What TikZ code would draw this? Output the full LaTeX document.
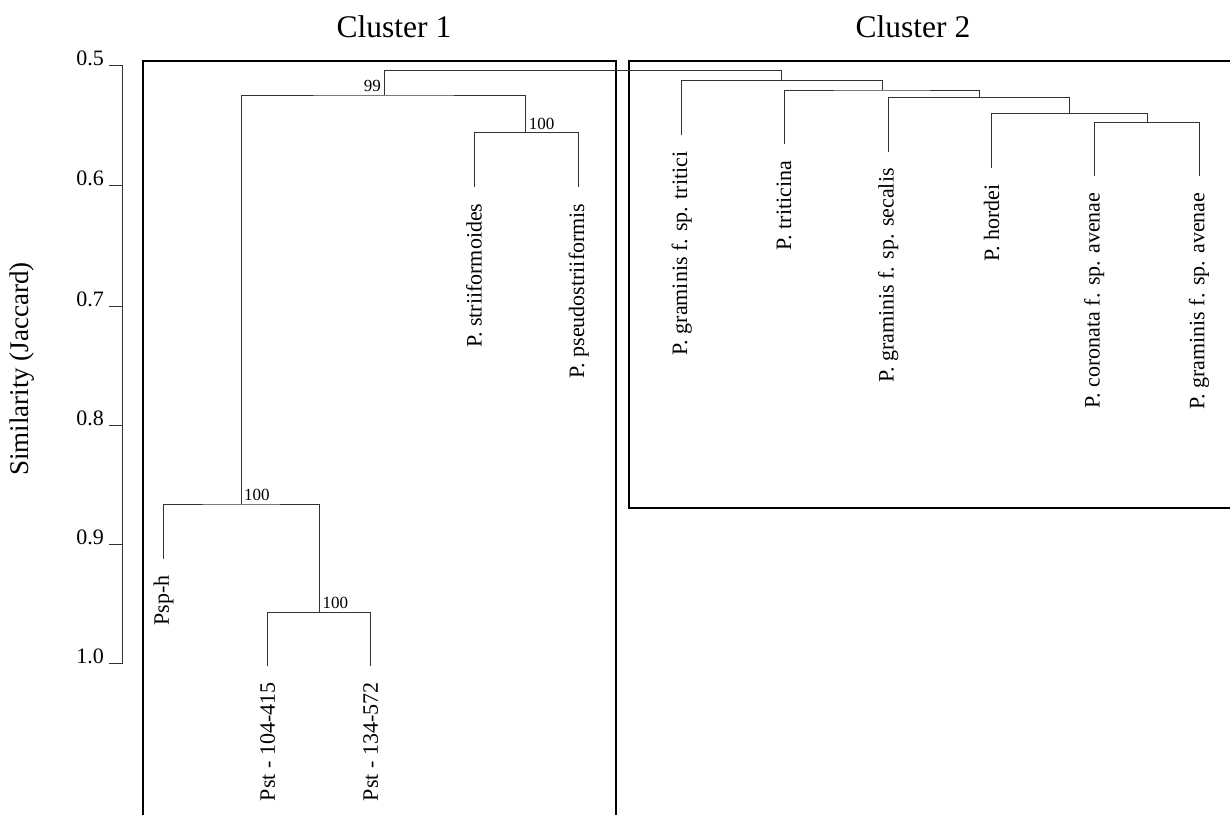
\documentclass[tikz,border=0pt]{standalone}
\usepackage{fontspec}
\setmainfont{Liberation Serif}
\usepackage{tikz}
\usetikzlibrary{positioning}

\tikzset{
  branch/.style={line width=1pt, black!80},
  frame/.style={line width=2pt},
  leaf/.style={rotate=90, anchor=east, font=\fontsize{22}{26}\selectfont},
  boot/.style={font=\fontsize{17}{20}\selectfont, inner sep=3pt},
  tick/.style={anchor=base east, inner sep=0pt, font=\fontsize{22}{26}\selectfont},
  title/.style={anchor=base, font=\fontsize{31.5}{36}\selectfont},
}

\begin{document}
\begin{tikzpicture}[x=1pt, y=-1pt]
    \useasboundingbox (0,0) rectangle (1230,814);

    % similarity axis
    \draw[branch] (109,65.7) -- (122.7,65.7) -- (122.7,663) -- (109,663);
    \draw[branch] (109,185.7) -- (122.7,185.7);
    \draw[branch] (109,306) -- (122.7,306);
    \draw[branch] (109,425) -- (122.7,425);
    \draw[branch] (109,544.3) -- (122.7,544.3);
    \node[tick] (s05) at (104,65.7) {0.5};
    \node[tick] (s06) at (104,185.7) {0.6};
    \node[tick] (s07) at (104,306) {0.7};
    \node[tick] (s08) at (104,425) {0.8};
    \node[tick] (s09) at (104,544.3) {0.9};
    \node[tick] (s10) at (104,663) {1.0};
    \node[rotate=90, font=\fontsize{27}{32}\selectfont] (ylab) at (22,369) {Similarity (Jaccard)};

    % cluster frames
    \draw[frame] (142.7,816) -- (142.7,61) -- (615.7,61) -- (615.7,816);
    \draw[frame] (1232,61) -- (629.3,61) -- (629.3,507.7) -- (1232,507.7);
    \node[title] (cl1) at (394,37.3) {Cluster 1};
    \node[title] (cl2) at (913,37.3) {Cluster 2};

    % joins
    \coordinate (root) at (583,70.7);
    \coordinate (n99) at (384,95);
    \coordinate (n100a) at (241,504);
    \coordinate (n100b) at (319.3,612.3);
    \coordinate (n100c) at (525.7,132.7);
    \coordinate (k1) at (781.7,80.3);
    \coordinate (k2) at (882.3,90);
    \coordinate (k3) at (979,97.7);
    \coordinate (k4) at (1069,113.3);
    \coordinate (k5) at (1147.3,122.3);

    % leaf tips
    \coordinate (psph) at (163.7,559);
    \coordinate (pst104) at (267.7,666);
    \coordinate (pst134) at (370.7,666);
    \coordinate (pstrf) at (474,187);
    \coordinate (ppseu) at (578.7,187);
    \coordinate (pgtri) at (681.7,135);
    \coordinate (ptrit) at (784,144.3);
    \coordinate (pgsec) at (888.3,151.7);
    \coordinate (phord) at (991.7,167.7);
    \coordinate (pcava) at (1094.3,176);
    \coordinate (pgava) at (1199,176);

    \draw[branch] (n99) |- (root) -| (k1);
    \draw[branch] (n100a) |- (n99) -| (n100c);
    \draw[branch] (psph) |- (n100a) -| (n100b);
    \draw[branch] (pst104) |- (n100b) -| (pst134);
    \draw[branch] (pstrf) |- (n100c) -| (ppseu);
    \draw[branch] (pgtri) |- (k1) -| (k2);
    \draw[branch] (ptrit) |- (k2) -| (k3);
    \draw[branch] (pgsec) |- (k3) -| (k4);
    \draw[branch] (phord) |- (k4) -| (k5);
    \draw[branch] (pcava) |- (k5) -| (pgava);

    \node[boot, above left] (b99) at (n99) {99};
    \node[boot, above right] (b100a) at (n100a) {100};
    \node[boot, above right] (b100b) at (n100b) {100};
    \node[boot, above right] (b100c) at (n100c) {100};

    % leaf labels
    \node[leaf] (lpsph) at (163.7,572) {Psp-h};
    \node[leaf] (lpst104) at (267.7,679) {Pst - 104-415};
    \node[leaf] (lpst134) at (370.7,679) {Pst - 134-572};
    \node[leaf] (lpstrf) at (474,200) {P. striiformoides};
    \node[leaf] (lppseu) at (578.7,200) {P. pseudostriiformis};
    \node[leaf] (lpgtri) at (681.7,148) {P. graminis f. sp. tritici};
    \node[leaf] (lptrit) at (784,157.3) {P. triticina};
    \node[leaf] (lpgsec) at (888.3,164.7) {P. graminis f. sp. secalis};
    \node[leaf] (lphord) at (991.7,180.7) {P. hordei};
    \node[leaf] (lpcava) at (1094.3,189) {P. coronata f. sp. avenae};
    \node[leaf] (lpgava) at (1199,189) {P. graminis f. sp. avenae};

\end{tikzpicture}
\end{document}
